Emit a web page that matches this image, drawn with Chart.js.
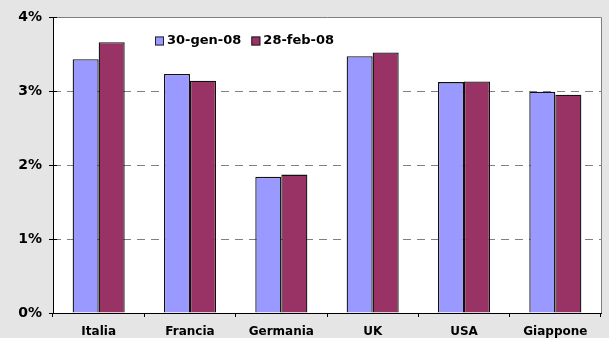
<!DOCTYPE html>
<html><head><meta charset="utf-8">
<script src="https://cdn.jsdelivr.net/npm/chart.js@4/dist/chart.umd.min.js"></script>
<style>html,body{margin:0;padding:0;background:#e5e5e5;}#w{width:609px;height:338px;}</style>
</head><body><div id="w"><canvas id="c" width="609" height="338"></canvas></div>
<script>
const categories = ['Italia','Francia','Germania','UK','USA','Giappone'];
const seriesNames = ['30-gen-08','28-feb-08'];
const jan30 = [3.43, 3.23, 1.84, 3.47, 3.12, 2.99];
const feb28 = [3.66, 3.14, 1.87, 3.52, 3.13, 2.95];
const yTickLabels = ['0%','1%','2%','3%','4%'];
const colors = ['#9999ff','#993366'];

const FONT = '"DejaVu Sans", Verdana, sans-serif';

const decor = {
  id:'decor',
  beforeDraw(chart){
    const {ctx, chartArea:a} = chart;
    ctx.save();
    ctx.fillStyle = '#ffffff';
    ctx.fillRect(a.left, a.top, a.right-a.left, a.bottom-a.top);
    ctx.restore();
  },
  afterDraw(chart){
    const {ctx, chartArea:a, scales} = chart;
    ctx.save();
    ctx.strokeStyle = '#808080'; ctx.lineWidth = 1;
    ctx.beginPath();
    ctx.moveTo(a.left, Math.round(a.top)+0.5);
    ctx.lineTo(Math.round(a.right)+0.5, Math.round(a.top)+0.5);
    ctx.lineTo(Math.round(a.right)+0.5, a.bottom);
    ctx.stroke();
    ctx.strokeStyle = '#000';
    ctx.beginPath();
    ctx.moveTo(Math.round(a.left)+0.5, a.top);
    ctx.lineTo(Math.round(a.left)+0.5, Math.round(a.bottom)+0.5);
    ctx.lineTo(a.right+1, Math.round(a.bottom)+0.5);
    ctx.stroke();
    const y = scales.y;
    y.ticks.forEach(t=>{
      const py = Math.round(y.getPixelForValue(t.value))+0.5;
      ctx.beginPath();
      ctx.moveTo(a.left, py); ctx.lineTo(a.left+4, py); ctx.stroke();
    });
    ctx.font = 'bold 13px ' + FONT;
    ctx.textBaseline = 'middle';
    let x = 155; const ly = 41;
    chart.data.datasets.forEach((ds,i)=>{
      ctx.fillStyle = ds.backgroundColor;
      ctx.fillRect(x, ly-4.5, 9, 9);
      ctx.strokeStyle = '#222'; ctx.lineWidth = 1;
      ctx.strokeRect(x+0.5, ly-4.5+0.5, 8, 8);
      ctx.fillStyle = '#000';
      ctx.fillText(ds.label, x+12, ly);
      x += 12 + ctx.measureText(ds.label).width + 10;
    });
    ctx.restore();
  }
};

new Chart(document.getElementById('c'), {
  type:'bar',
  data:{
    labels: categories,
    datasets:[
      {label: seriesNames[0], data: jan30, backgroundColor: colors[0], borderColor:'#111', borderWidth:1.3, borderSkipped:'bottom'},
      {label: seriesNames[1], data: feb28, backgroundColor: colors[1], borderColor:'#111', borderWidth:1.3, borderSkipped:'bottom'}
    ]
  },
  options:{
    responsive:false, animation:false, devicePixelRatio:1,
    layout:{padding:{left:0, right:8, top:17, bottom:0}},
    plugins:{legend:{display:false}, tooltip:{enabled:false}},
    datasets:{bar:{categoryPercentage:0.57, barPercentage:1.0}},
    scales:{
      x:{
        grid:{drawOnChartArea:false, drawTicks:true, tickLength:4, color:'#000', offset:true},
        border:{display:false},
        ticks:{color:'#000', font:{family:FONT, size:12, weight:'bold'}, padding:8, maxRotation:0},
        afterFit(s){ s.height = 25; }
      },
      y:{
        min:0, max:4,
        grid:{color:'#808080', tickColor:'#000', tickLength:4, drawTicks:true},
        border:{display:false, dash:[8,6]},
        ticks:{stepSize:1, color:'#000', padding:7, font:{family:FONT, size:14, weight:'bold'},
          callback:(v,i)=>yTickLabels[i]},
        afterFit(s){ s.width = 53; }
      }
    }
  },
  plugins:[decor]
});
</script>
</body></html>
